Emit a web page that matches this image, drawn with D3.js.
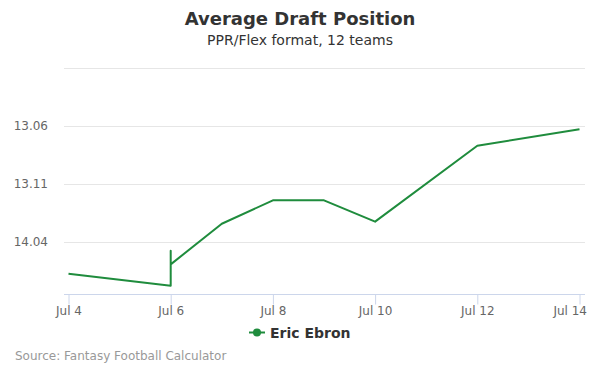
<!DOCTYPE html>
<html lang="en">
  <head>
    <meta charset="UTF-8" />
    <title>adp</title>
    <style>
      body { margin: 0; background: #fff; }
      text { font-family: 'DejaVu Sans', sans-serif; }
    </style>
  </head>
  <body>
    <svg id="svg" width="600" height="375"></svg>
    <script src="https://cdn.jsdelivr.net/npm/d3@7/dist/d3.min.js"></script>
    <script>
      // ADP as overall pick number (12 teams), several points on Jul 6
      const dates = ['2019-07-04', '2019-07-06', '2019-07-06', '2019-07-06', '2019-07-07',
        '2019-07-08', '2019-07-09', '2019-07-10', '2019-07-12', '2019-07-14']
      const adp = [162.7, 163.74, 160.73, 161.9, 158.4, 156.38, 156.38, 158.22, 151.67, 150.26]
      const tickDates = ['2019-07-04', '2019-07-06', '2019-07-08', '2019-07-10', '2019-07-12', '2019-07-14']
      const yTicks = [150, 155, 160]
      const gridValues = [145, 150, 155, 160]
      const seriesName = 'Eric Ebron'

      const parse = d3.timeParse('%Y-%m-%d')
      const data = dates.map((d, i) => ({ date: parse(d), value: adp[i] }))

      const svg = d3.select('#svg')
      const margin = { left: 64, right: 15, top: 68.3, bottom: 80.7 }
      const width = 600, height = 375

      const x = d3.scaleTime()
        .domain([parse('2019-07-04'), parse('2019-07-14')])
        .range([68.5, 579.5])
      const y = d3.scaleLinear()
        .domain([145, 164.48])
        .range([margin.top, height - margin.bottom])

      // round.pick format
      const fmtPick = p => {
        const r = Math.floor((p - 1) / 12) + 1
        const k = ((p - 1) % 12) + 1
        return r + '.' + String(k).padStart(2, '0')
      }

      // grid
      svg.append('g')
        .selectAll('line')
        .data(gridValues)
        .enter()
        .append('line')
        .attr('x1', margin.left)
        .attr('x2', width - margin.right)
        .attr('y1', d => Math.round(y(d)) + 0.5)
        .attr('y2', d => Math.round(y(d)) + 0.5)
        .attr('stroke', '#e6e6e6')

      // y labels
      svg.append('g')
        .selectAll('text')
        .data(yTicks)
        .enter()
        .append('text')
        .attr('x', 48)
        .attr('y', d => y(d) + 4)
        .attr('text-anchor', 'end')
        .attr('font-size', 12)
        .attr('fill', '#666')
        .text(fmtPick)

      // x axis
      const xAxis = d3.axisBottom(x)
        .tickValues(tickDates.map(parse))
        .tickFormat(d3.timeFormat('Jul %-d'))
        .tickSize(10)
        .tickPadding(2)
      const gx = svg.append('g')
        .attr('transform', `translate(0,${Math.round(y(164.48)) + 0.5})`)
        .call(xAxis)
      gx.select('.domain').remove()
      gx.append('line')
        .attr('x1', margin.left).attr('x2', width - margin.right)
        .attr('stroke', '#ccd6eb')
      gx.selectAll('.tick line').attr('stroke', '#ccd6eb')
      gx.selectAll('.tick text')
        .attr('font-family', "'DejaVu Sans', sans-serif")
        .attr('font-size', 12)
        .attr('fill', '#666')
      // last label kept inside the chart
      gx.selectAll('.tick text')
        .filter((d, i, n) => i === n.length - 1)
        .attr('text-anchor', 'end')
        .attr('x', 7)

      // line
      const line = d3.line()
        .x(d => x(d.date))
        .y(d => y(d.value))
      svg.append('path')
        .datum(data)
        .attr('d', line)
        .attr('fill', 'none')
        .attr('stroke', '#1f8c3d')
        .attr('stroke-width', 2)
        .attr('stroke-linejoin', 'round')

      // titles
      svg.append('text')
        .attr('x', width / 2).attr('y', 25)
        .attr('text-anchor', 'middle')
        .attr('font-size', 18).attr('font-weight', 'bold')
        .attr('fill', '#333')
        .text('Average Draft Position')
      svg.append('text')
        .attr('x', width / 2).attr('y', 45)
        .attr('text-anchor', 'middle')
        .attr('font-size', 14)
        .attr('fill', '#333')
        .text('PPR/Flex format, 12 teams')

      // legend
      const lg = svg.append('g').attr('transform', 'translate(249,332.5)')
      lg.append('line')
        .attr('x1', 0).attr('x2', 16)
        .attr('stroke', '#1f8c3d').attr('stroke-width', 2)
      lg.append('circle')
        .attr('cx', 8).attr('r', 4)
        .attr('fill', '#1f8c3d')
      lg.append('text')
        .attr('x', 21).attr('y', 5)
        .attr('font-size', 14).attr('font-weight', 'bold')
        .attr('fill', '#333')
        .text(seriesName)

      // credits
      svg.append('text')
        .attr('x', 15).attr('y', 360)
        .attr('font-size', 12)
        .attr('fill', '#999')
        .text('Source: Fantasy Football Calculator')
    </script>
  </body>
</html>
